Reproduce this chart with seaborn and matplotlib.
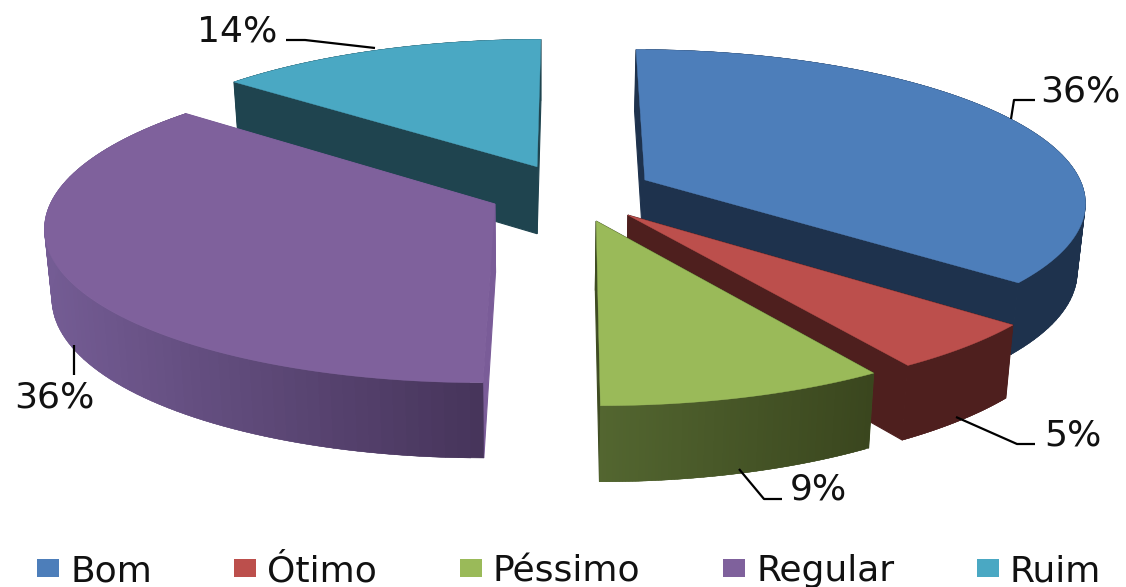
import numpy as np
import matplotlib
matplotlib.use("Agg")
import matplotlib.pyplot as plt
from matplotlib.patches import Patch
from matplotlib.colors import to_rgb
import seaborn as sns

# ---- data ----
categories = ["Bom", "Ótimo", "Péssimo", "Regular", "Ruim"]
shares = [36, 5, 9, 36, 14]

# ---- style ----
top_colors = ["#4D7EBA", "#BC4F4C", "#9ABA59", "#7F619C", "#4AA8C3"]
wall_colors = ["#1E324D", "#4E1F1E", "#3F4C22", "#7A5C98", "#1F444F"]
arc_left = ["#1E324D", "#4E1F1E", "#536630", "#745C94", "#1F444F"]
arc_right = ["#1E324D", "#4E1F1E", "#3A461E", "#46345A", "#1F444F"]
explode_xy = [(0.172, 0.081), (0.129, -0.150), (0.058, -0.188), (-0.169, -0.079), (-0.0765, 0.171)]
paint_order = [4, 0, 3, 1, 2]

CX, CY, RX, RY = 570, 192, 440, 151
KX, KY, KD = 0.135, 0.135, 0.09
DEPTH, Z_SHRINK, Z_CX = 68, 0.015, 540

leaders = [
    [(1011, 119), (1014, 100), (1035, 100)],
    [(956, 417), (1017, 444), (1035, 444)],
    [(739, 469), (764, 499), (782, 499)],
    [(74, 345), (74, 375)],
    [(375, 48), (305, 40), (286, 40)],
]
label_pos = [(1080, 91), (1073, 435), (818, 489), (54, 397), (237, 31)]

sns.set_theme(style="white")
plt.rcParams["font.family"] = ["DejaVu Sans"]
palette = sns.color_palette(top_colors)

fig = plt.figure(figsize=(11.26, 5.87), dpi=100)
ax = fig.add_axes([0, 0, 1, 1])
ax.set_xlim(0, 1126)
ax.set_ylim(587, 0)
ax.axis("off")


def project(X, Y, Z=0.0):
    X, Y = np.asarray(X), np.asarray(Y)
    sx = CX + RX * X / (1 + KX * Y)
    sy = CY - RY * Y / (1 + KY * Y) + DEPTH * Z / (1 + KD * Y)
    return sx + (Z_CX - sx) * Z_SHRINK * Z, sy


fracs = np.array(shares, dtype=float) / sum(shares)
edges = np.pi / 2 - 2 * np.pi * np.concatenate([[0], np.cumsum(fracs)])

for i in paint_order:
    ex, ey = explode_xy[i]
    t = np.linspace(edges[i], edges[i + 1], 90)
    X = ex + np.cos(t)
    Y = ey + np.sin(t)
    for tt in (edges[i], edges[i + 1]):
        XX = np.array([ex, ex + np.cos(tt)])
        YY = np.array([ey, ey + np.sin(tt)])
        x0, y0 = project(XX, YY, 0)
        x1, y1 = project(XX, YY, 1)
        ax.fill([x0[0], x0[1], x1[1], x1[0]], [y0[0], y0[1], y1[1], y1[0]],
                color=wall_colors[i], lw=0.8)
    x0, y0 = project(X, Y, 0)
    x1, y1 = project(X, Y, 1)
    lo, hi = x0.min(), x0.max()
    cl, cr = np.array(to_rgb(arc_left[i])), np.array(to_rgb(arc_right[i]))
    n = len(t)
    for j in range(n - 1):
        k = min(j + 2, n - 1)  # strips overlap so no seams show
        f = ((x0[j] + x0[j + 1]) / 2 - lo) / (hi - lo)
        ax.fill([x0[j], x0[k], x1[k], x1[j]], [y0[j], y0[k], y1[k], y1[j]],
                color=tuple(cl + (cr - cl) * f), lw=0.3)
    px, py = project(np.r_[ex, X], np.r_[ey, Y], 0)
    ax.fill(px, py, color=palette[i], lw=0.3)

for line, pos, val in zip(leaders, label_pos, shares):
    xs, ys = zip(*line)
    ax.plot(xs, ys, color="black", lw=1.6, solid_capstyle="butt", zorder=3)
    ax.text(pos[0], pos[1], f"{val}%", ha="center", va="center", fontsize=26, color="#111111", zorder=4)

handles = [Patch(facecolor=c, edgecolor="none", label=n) for c, n in zip(palette, categories)]
ax.legend(handles=handles, ncol=5, loc="center", bbox_to_anchor=(569, 571),
          bbox_transform=ax.transData, frameon=False, fontsize=26,
          handlelength=0.61, handleheight=0.41, handletextpad=0.31,
          columnspacing=2.28, borderpad=0, borderaxespad=0, labelcolor="#111111")

fig.savefig("out.png", dpi=100)
